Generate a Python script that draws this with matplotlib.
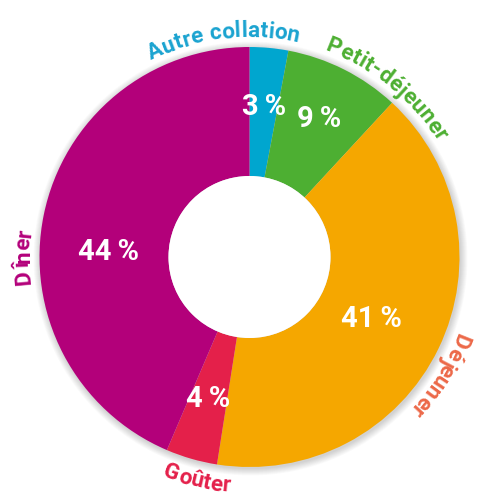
import numpy as np
import matplotlib
matplotlib.use("Agg")
import matplotlib.pyplot as plt
from matplotlib.patches import Circle
from matplotlib.font_manager import FontProperties, findfont
from matplotlib.ft2font import FT2Font

FAMS = ['Roboto', 'DejaVu Sans']
plt.rcParams['font.family'] = FAMS

# donnees
categories = ["Autre collation", "Petit-déjeuner", "Déjeuner", "Goûter", "Dîner"]
values = [3, 9, 41, 4, 44]
pct_labels = ["3\u2009%", "9\u2009%", "41\u2009%", "4\u2009%", "44\u2009%"]
slice_colors = ["#00A6CF", "#4DAF32", "#F5A700", "#E4204A", "#B3007A"]
label_colors = ["#1AA3D0", "#4DAF32", "#EC6848", "#E4204A", "#B3007A"]

# placement of the labels (radius, angle shift in deg, clockwise)
pct_radius = [151, 154, 137, 148, 141]
pct_shift = [0, 0, 1, 0, -9.6]
lab_angle = [-6.8, 39.3, 121.8, 193.2, 270]
lab_outward = [True, True, True, False, True]

cx, cy = 249.5, 239
R, hole = 210, 81
DPI = 100

fig = plt.figure(figsize=(4.8, 4.96), dpi=DPI)
ax = fig.add_axes([0, 0, 1, 1])

# soft shadow around the ring
for k in range(9):
    ax.add_patch(Circle((cx + 1, cy - 1.5), R + 7 - k * 0.8, color="k", alpha=0.018, lw=0, zorder=0))

wedges, _ = ax.pie(values, colors=slice_colors, startangle=90, counterclock=False,
                   radius=R, center=(cx, cy),
                   wedgeprops=dict(width=R - hole, linewidth=0))
for w in wedges:
    w.set_zorder(2)
ax.add_patch(Circle((cx, cy), hole, color="white", lw=0, zorder=3))

ax.set_xlim(0, 480)
ax.set_ylim(0, 496)
ax.set_aspect("equal")
ax.axis("off")

# percent labels inside ring
pct_fp = FontProperties(family=FAMS, weight="bold", size=21)
for w, txt, r, sh in zip(wedges, pct_labels, pct_radius, pct_shift):
    mid = np.radians((w.theta1 + w.theta2) / 2 - sh)
    ax.text(cx + r * np.cos(mid), cy + r * np.sin(mid), txt, fontproperties=pct_fp,
            color="white", ha="center", va="center", zorder=5)

# curved category labels
LAB_SIZE = 16.2
TRACK = 0.2  # extra letter spacing, px
lab_fp = FontProperties(family=FAMS, weight="bold", size=LAB_SIZE)
ft = FT2Font(findfont(lab_fp))
ft.set_size(LAB_SIZE, DPI)


def advance(ch):
    g = ft.load_char(ord(ch))
    return g.linearHoriAdvance / 65536 + TRACK


def curved_text(s, center_deg, color, outward):
    cap = LAB_SIZE * DPI / 72 * 0.71
    adv = [advance(ch) for ch in s]
    total = sum(adv)
    if outward:
        rb = 228 - cap / 2
    else:
        rb = 228 + cap / 2
    span = np.degrees(total / rb)
    pos = 0.0
    for ch, a_w in zip(s, adv):
        d = np.degrees((pos + a_w / 2) / rb)
        pos += a_w
        if outward:
            a = center_deg - span / 2 + d
            rot = -a
        else:
            a = center_deg + span / 2 - d
            rot = 180 - a
        ar = np.radians(a)
        ax.text(cx + rb * np.sin(ar), cy + rb * np.cos(ar), ch, fontproperties=lab_fp,
                color=color, ha="center", va="baseline", rotation=rot,
                rotation_mode="anchor", zorder=5)


for name, ang, col, outw in zip(categories, lab_angle, label_colors, lab_outward):
    curved_text(name, ang, col, outw)

fig.savefig("out.png", dpi=DPI)
